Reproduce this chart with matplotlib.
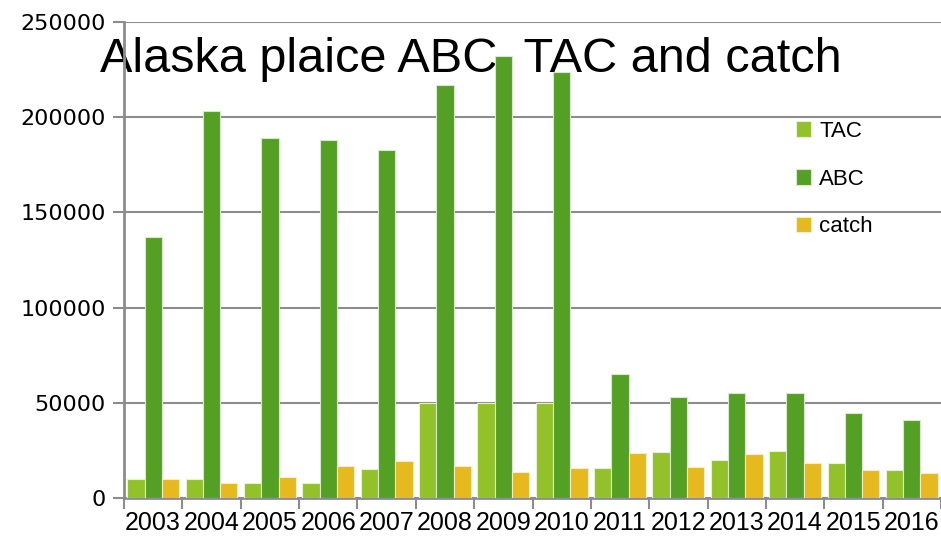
import numpy as np
import matplotlib.pyplot as plt

# data
years = ['2003', '2004', '2005', '2006', '2007', '2008', '2009',
         '2010', '2011', '2012', '2013', '2014', '2015', '2016']
tac = [10000, 10000, 8000, 8000, 15000, 50000, 50000,
       50000, 16000, 24000, 20000, 24500, 18500, 14500]
abc = [137000, 203000, 189000, 188000, 183000, 217000, 232000,
       224000, 65000, 53200, 55200, 55000, 44900, 41000]
catch = [10000, 8000, 11000, 17000, 19500, 17000, 13800,
         16000, 23500, 16500, 23300, 18500, 14500, 13000]

c_tac = '#92C12A'
c_abc = '#54A024'
c_catch = '#E6B91E'
grey = '#8C8C8C'

fig = plt.figure(figsize=(9.41, 5.48), dpi=100)
ax = fig.add_axes([124 / 941, 1 - 498 / 548, 817 / 941, 476 / 548])

x = np.arange(len(years))
w = 0.296
ax.bar(x - w, tac, w, color=c_tac, edgecolor='#e8f0d8', linewidth=0.8, label='TAC', zorder=3)
ax.bar(x, abc, w, color=c_abc, edgecolor='#d8e8cc', linewidth=0.8, label='ABC', zorder=3)
ax.bar(x + w, catch, w, color=c_catch, edgecolor='#f5ecc8', linewidth=0.8, label='catch', zorder=3)

ax.set_xlim(-0.5, len(years) - 0.5)
ax.set_ylim(0, 250000)
ax.set_yticks(np.arange(0, 250001, 50000))
ax.yaxis.grid(True, color=grey, linewidth=1.5)
ax.set_axisbelow(True)

# labels centred on categories, tick marks on the category borders
ax.set_xticks(x)
ax.set_xticklabels(years, fontfamily='Liberation Sans', fontsize=18)
ax.set_xticks(np.arange(-0.5, len(years), 1), minor=True)
ax.tick_params(axis='x', which='major', length=0, pad=9)
ax.tick_params(axis='x', which='minor', length=8, width=1.5, color=grey)
ax.tick_params(axis='y', length=8, width=1.5, color=grey, labelsize=16, pad=5)

for s in ['top', 'right']:
    ax.spines[s].set_visible(False)
for s in ['left', 'bottom']:
    ax.spines[s].set_color(grey)
    ax.spines[s].set_linewidth(2)
ax.patch.set_visible(False)

ax.text(100 / 941, 1 - 72 / 548, 'Alaska plaice ABC, TAC and catch',
        transform=fig.transFigure, fontfamily='Liberation Sans', fontsize=35,
        va='baseline', ha='left', zorder=2, clip_on=False)

leg = ax.legend(loc='upper left', bbox_to_anchor=(787 / 941, 1 - 112 / 548),
                bbox_transform=fig.transFigure, frameon=False,
                prop={'family': 'Liberation Sans', 'size': 16},
                handlelength=0.7, handleheight=0.7, handletextpad=0.35,
                labelspacing=1.2, borderaxespad=0)

fig.savefig('out.png', dpi=100)
